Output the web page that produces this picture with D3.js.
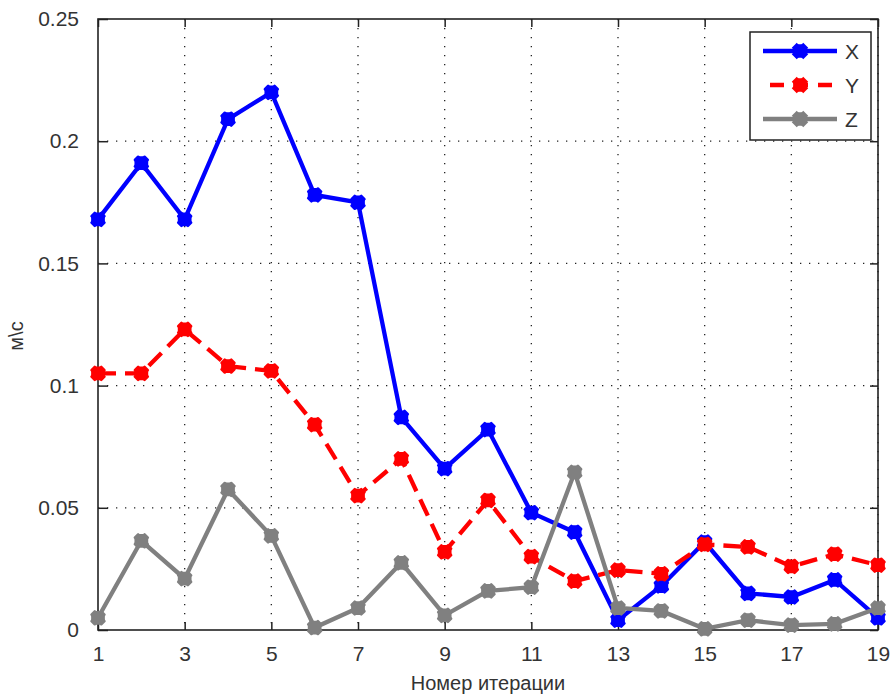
<!DOCTYPE html>
<html>
<head>
<meta charset="utf-8">
<script src="https://cdn.jsdelivr.net/npm/d3@7"></script>
<style>
  body { margin: 0; background: #fff; }
  text { font-family: "Liberation Sans", Arial, sans-serif; fill: #333; }
</style>
</head>
<body>
<div class="graph"></div>
<script>
// Data
const iterations = d3.range(1, 20);
const xValues = [0.168, 0.191, 0.168, 0.209, 0.220, 0.178, 0.175, 0.087, 0.066, 0.082,
                 0.048, 0.040, 0.004, 0.018, 0.036, 0.015, 0.0135, 0.0205, 0.005];
const yValues = [0.105, 0.105, 0.123, 0.108, 0.106, 0.084, 0.055, 0.070, 0.032, 0.053,
                 0.030, 0.020, 0.0245, 0.023, 0.035, 0.034, 0.026, 0.031, 0.0265];
const zValues = [0.005, 0.0365, 0.021, 0.0575, 0.0385, 0.001, 0.009, 0.0275, 0.006, 0.016,
                 0.0175, 0.0645, 0.009, 0.0078, 0.0005, 0.004, 0.002, 0.0025, 0.009];
const xTicks = [1, 3, 5, 7, 9, 11, 13, 15, 17, 19];
const yTicks = [0, 0.05, 0.1, 0.15, 0.2, 0.25];

const seriesList = [
    { name: 'X', values: xValues, color: '#0000ff', dash: null },
    { name: 'Y', values: yValues, color: '#ff0000', dash: '18,9' },
    { name: 'Z', values: zValues, color: '#808080', dash: null }
];

// Set chart dimensions
const totalW = 894, totalH = 700;
const margin = { top: 19, right: 16, bottom: 70, left: 98 };
const width = totalW - margin.left - margin.right;
const height = totalH - margin.top - margin.bottom;

const svg = d3.select('.graph')
    .append('svg')
    .attr('width', totalW)
    .attr('height', totalH)
    .append('g')
    .attr('transform', `translate(${margin.left},${margin.top})`);

// Scales
const xScale = d3.scaleLinear().domain([1, 19]).range([0, width]);
const yScale = d3.scaleLinear().domain([0, 0.25]).range([height, 0]);

// Grid (dotted)
svg.append('g')
    .selectAll('line')
    .data(xTicks.slice(1))
    .enter()
    .append('line')
    .attr('x1', d => xScale(d)).attr('x2', d => xScale(d))
    .attr('y1', 0).attr('y2', height)
    .attr('stroke', '#222')
    .attr('stroke-width', 1.3)
    .attr('stroke-dasharray', '1.3,7.7');

svg.append('g')
    .selectAll('line')
    .data(yTicks.slice(1, -1))
    .enter()
    .append('line')
    .attr('x1', 0).attr('x2', width)
    .attr('y1', d => yScale(d)).attr('y2', d => yScale(d))
    .attr('stroke', '#222')
    .attr('stroke-width', 1.3)
    .attr('stroke-dasharray', '1.3,7.7');

// Axes (ticks pointing inward, on all four sides)
const fmt = d => d === 0 ? '0' : String(d);
const axisStyle = g => {
    g.select('.domain').remove();
    g.selectAll('.tick line').attr('stroke', '#222').attr('stroke-width', 1.5);
    g.selectAll('.tick text')
        .style('font-family', '"Liberation Sans", Arial, sans-serif')
        .style('font-size', '21px')
        .attr('fill', '#333');
};

svg.append('g')
    .attr('transform', `translate(0,${height})`)
    .call(d3.axisBottom(xScale).tickValues(xTicks).tickSizeInner(-8).tickSizeOuter(0).tickPadding(16))
    .call(axisStyle);

svg.append('g')
    .call(d3.axisTop(xScale).tickValues(xTicks).tickSizeInner(-8).tickSizeOuter(0).tickFormat(''))
    .call(axisStyle);

svg.append('g')
    .call(d3.axisLeft(yScale).tickValues(yTicks).tickSizeInner(-10).tickSizeOuter(0).tickPadding(19).tickFormat(fmt))
    .call(axisStyle);

svg.append('g')
    .attr('transform', `translate(${width},0)`)
    .call(d3.axisRight(yScale).tickValues(yTicks).tickSizeInner(-8).tickSizeOuter(0).tickFormat(''))
    .call(axisStyle);

// Box
svg.append('rect')
    .attr('x', 0).attr('y', 0)
    .attr('width', width).attr('height', height)
    .attr('fill', 'none')
    .attr('stroke', '#222')
    .attr('stroke-width', 1.6);

// Lines and markers
const line = d3.line()
    .x((d, i) => xScale(iterations[i]))
    .y(d => yScale(d));

const marker = d3.symbol().type(d3.symbolCross).size(105);

seriesList.forEach(s => {
    svg.append('path')
        .datum(s.values)
        .attr('d', line)
        .attr('fill', 'none')
        .attr('stroke', s.color)
        .attr('stroke-width', 4.3)
        .attr('stroke-dasharray', s.dash);

    svg.append('g')
        .selectAll('path')
        .data(s.values)
        .enter()
        .append('path')
        .attr('d', marker)
        .attr('transform', (d, i) => `translate(${xScale(iterations[i])},${yScale(d)}) rotate(45)`)
        .attr('fill', s.color)
        .attr('stroke', s.color)
        .attr('stroke-width', 2.5)
        .attr('stroke-linejoin', 'round');

    svg.append('g')
        .selectAll('path')
        .data(s.values)
        .enter()
        .append('path')
        .attr('d', marker)
        .attr('transform', (d, i) => `translate(${xScale(iterations[i])},${yScale(d)})`)
        .attr('fill', s.color);
});

// Legend
const legend = svg.append('g')
    .attr('transform', `translate(${width - 128},13)`);

legend.append('rect')
    .attr('x', 0).attr('y', 0)
    .attr('width', 121).attr('height', 108)
    .attr('fill', '#fff')
    .attr('stroke', '#222')
    .attr('stroke-width', 1.5);

seriesList.forEach((s, i) => {
    const yy = 19 + i * 34;
    legend.append('line')
        .attr('x1', s.dash ? 20 : 13).attr('x2', 87)
        .attr('y1', yy).attr('y2', yy)
        .attr('stroke', s.color)
        .attr('stroke-width', 4.3)
        .attr('stroke-dasharray', s.dash ? '14,10' : null);
    legend.append('path')
        .attr('d', marker)
        .attr('transform', `translate(50,${yy}) rotate(45)`)
        .attr('fill', s.color)
        .attr('stroke', s.color)
        .attr('stroke-width', 2.5);
    legend.append('path')
        .attr('d', marker)
        .attr('transform', `translate(50,${yy})`)
        .attr('fill', s.color);
    legend.append('text')
        .attr('x', 95)
        .attr('y', yy)
        .attr('dy', '0.36em')
        .style('font-size', '21px')
        .text(s.name);
});

// Axis titles
svg.append('text')
    .attr('x', width / 2)
    .attr('y', height + 60)
    .attr('text-anchor', 'middle')
    .style('font-size', '20px')
    .text('Номер итерации');

svg.append('text')
    .attr('transform', 'rotate(-90)')
    .attr('x', -(336 - margin.top))
    .attr('y', -75)
    .attr('text-anchor', 'middle')
    .style('font-size', '20px')
    .text('м\\с');
</script>
</body>
</html>
